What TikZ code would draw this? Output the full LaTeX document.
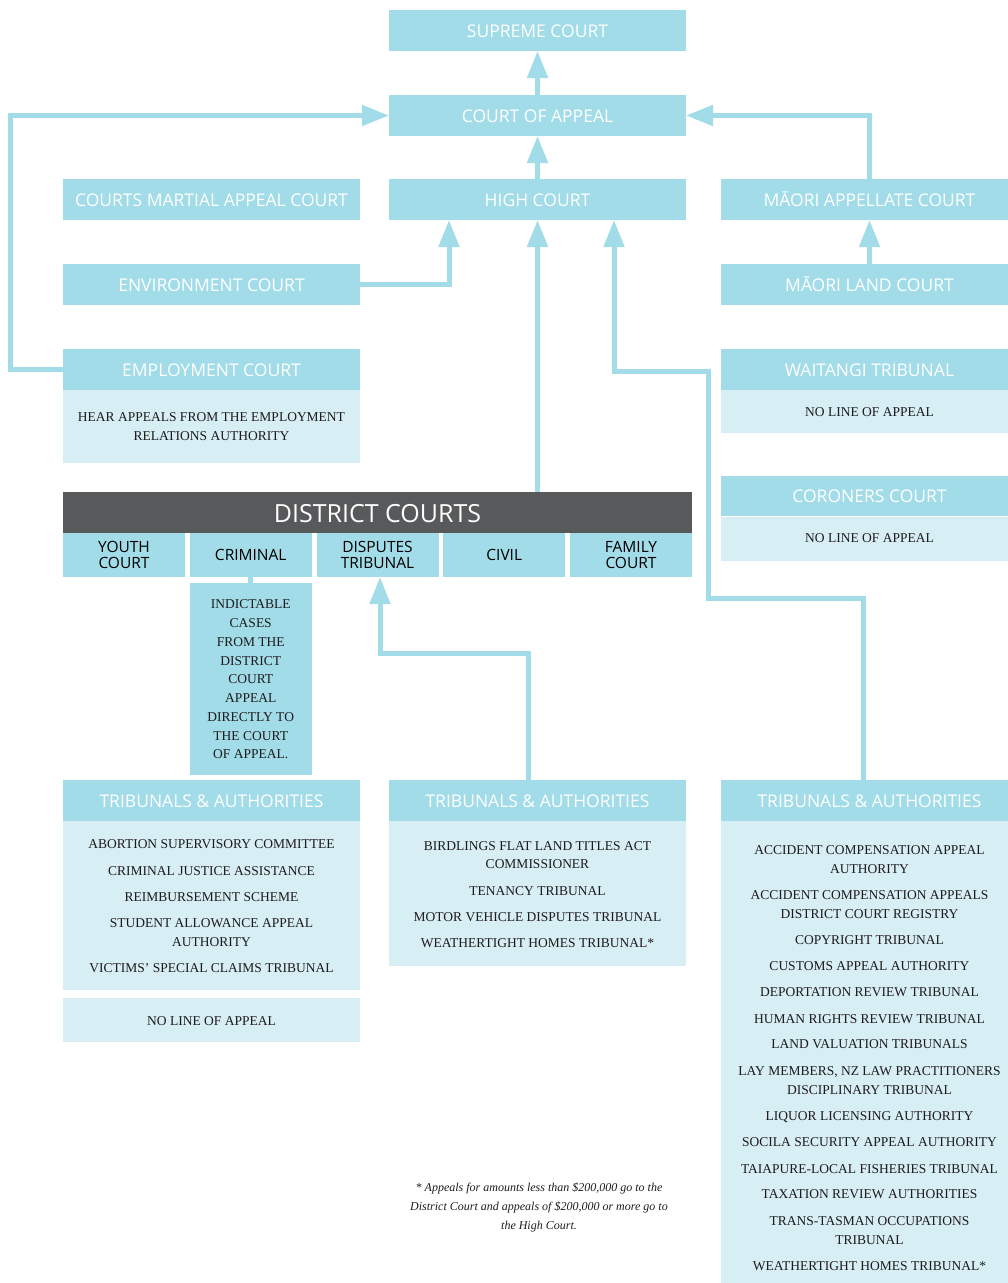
\documentclass[tikz,border=0pt]{standalone}
\usepackage{fontspec}
\setmainfont{Liberation Serif}
\newfontfamily\osans{Open Sans}
\usetikzlibrary{arrows.meta,calc}
\definecolor{cblue}{HTML}{A1DCE8}
\definecolor{clight}{HTML}{D7EEF4}
\definecolor{cdark}{HTML}{58595B}
\definecolor{ctext}{HTML}{1E1B1C}
\newcommand\hdrf{\osans\fontsize{17.5}{21}\selectfont}
\newcommand\dcf{\osans\fontsize{25}{30}\selectfont}
\newcommand\subf{\osans\fontsize{15.5}{16}\selectfont}
\newcommand\bodyf{\fontsize{13.5}{18.75}\selectfont}
\newcommand\notef{\itshape\fontsize{12}{19}\selectfont}
\tikzset{
  hdr/.style={fill=cblue, text=white, font=\hdrf, minimum width=297pt, minimum height=41pt,
    inner sep=0pt, outer sep=0pt, text height=14.5pt, text depth=0pt},
  bodybox/.style={fill=clight, minimum width=297pt, inner sep=0pt, outer sep=0pt},
  subbox/.style={fill=cblue, text=black, font=\subf, minimum width=122pt, minimum height=44pt,
    inner sep=0pt, outer sep=0pt, align=center},
  txt/.style={font=\bodyf, text=ctext, inner sep=0pt, anchor=base},
  arr/.style={draw=cblue, line width=5pt, -{Triangle[length=27pt,width=20pt]}},
  plainline/.style={draw=cblue, line width=5pt},
}
\begin{document}
\begin{tikzpicture}[x=1pt,y=-1pt]
\useasboundingbox (0,0) rectangle (1008,1283);
\clip (0,0) rectangle (1008,1283);

% upper courts
\node[hdr] (sup) at (537.5,30.5) {SUPREME COURT};
\node[hdr] (coa) at (537.5,115.5) {COURT OF APPEAL};
\node[hdr] (hc) at (537.5,199.5) {HIGH COURT};
\node[hdr] (cmac) at (211.5,199.5) {COURTS MARTIAL APPEAL COURT};
\node[hdr] (env) at (211.5,284.5) {ENVIRONMENT COURT};
\node[hdr] (emp) at (211.5,369.5) {EMPLOYMENT COURT};
\node[bodybox, minimum height=73pt] (empb) at (211.5,426.5) {};
\node[txt] (empt1) at (211.5,421.5) {HEAR APPEALS FROM THE EMPLOYMENT};
\node[txt] (empt2) at (211.5,440.5) {RELATIONS AUTHORITY};

\node[hdr] (mac) at (869.5,199.5) {MĀORI APPELLATE COURT};
\node[hdr] (mlc) at (869.5,284.5) {MĀORI LAND COURT};
\node[hdr] (wai) at (869.5,369.5) {WAITANGI TRIBUNAL};
\node[bodybox, minimum height=43pt] (waib) at (869.5,411.5) {};
\node[txt] (wait) at (869.5,416.5) {NO LINE OF APPEAL};
\node[hdr, minimum height=40pt] (cor) at (869.5,495.5) {CORONERS COURT};
\node[bodybox, minimum height=44pt] (corb) at (869.5,539) {};
\node[txt] (cort) at (869.5,542.5) {NO LINE OF APPEAL};

% district courts
\node[fill=cdark, text=white, font=\dcf, minimum width=629pt, minimum height=41pt,
  inner sep=0pt, outer sep=0pt, text height=20pt, text depth=0pt] (dc) at (377.5,512.5) {DISTRICT COURTS};
\node[subbox] (youth) at (124,555) {YOUTH\\COURT};
\node[subbox] (crim) at (250.75,555) {CRIMINAL};
\node[subbox] (disp) at (377.5,555) {DISPUTES\\TRIBUNAL};
\node[subbox] (civil) at (504.25,555) {CIVIL};
\node[subbox] (fam) at (631,555) {FAMILY\\COURT};
\node[fill=cblue, minimum width=122pt, minimum height=192pt, inner sep=0pt, outer sep=0pt] (crimn) at (250.75,679) {};
\node[font=\bodyf, text=ctext, align=center, inner sep=0pt] (crimt) at (250.75,679.5)
  {INDICTABLE\\CASES\\FROM THE\\DISTRICT\\COURT\\APPEAL\\DIRECTLY TO\\THE COURT\\OF APPEAL.};

% tribunals left
\node[hdr] (trL) at (211.5,800.5) {TRIBUNALS \& AUTHORITIES};
\node[bodybox, minimum height=168.5pt] (trLb) at (211.5,905.25) {};
\foreach \y/\t [count=\i] in {843/{ABORTION SUPERVISORY COMMITTEE}, 870.5/{CRIMINAL JUSTICE ASSISTANCE},
  896.5/{REIMBURSEMENT SCHEME}, 922.5/{STUDENT ALLOWANCE APPEAL}, 941.5/{AUTHORITY},
  967.5/{VICTIMS’ SPECIAL CLAIMS TRIBUNAL}}
  \node[txt] (l\i) at (211.5,\y+5) {\t};
\node[bodybox, minimum height=44pt] (nla) at (211.5,1020) {};
\node[txt] (nlat) at (211.5,1025) {NO LINE OF APPEAL};

% tribunals middle
\node[hdr] (trM) at (537.5,800.5) {TRIBUNALS \& AUTHORITIES};
\node[bodybox, minimum height=144.5pt] (trMb) at (537.5,893.25) {};
\foreach \y/\t [count=\i] in {845/{BIRDLINGS FLAT LAND TITLES ACT}, 863/{COMMISSIONER},
  890/{TENANCY TRIBUNAL}, 916.5/{MOTOR VEHICLE DISPUTES TRIBUNAL}, 942.5/{WEATHERTIGHT HOMES TRIBUNAL*}}
  \node[txt] (m\i) at (537.5,\y+5) {\t};

% tribunals right
\node[hdr] (trR) at (869.5,800.5) {TRIBUNALS \& AUTHORITIES};
\node[bodybox, minimum height=480pt] (trRb) at (869.5,1061) {};
\foreach \y/\t [count=\i] in {849.5/{ACCIDENT COMPENSATION APPEAL}, 868/{AUTHORITY},
  894.5/{ACCIDENT COMPENSATION APPEALS}, 913/{DISTRICT COURT REGISTRY},
  939/{COPYRIGHT TRIBUNAL}, 965/{CUSTOMS APPEAL AUTHORITY}, 991/{DEPORTATION REVIEW TRIBUNAL},
  1018/{HUMAN RIGHTS REVIEW TRIBUNAL}, 1043.5/{LAND VALUATION TRIBUNALS},
  1070/{LAY MEMBERS, NZ LAW PRACTITIONERS}, 1089/{DISCIPLINARY TRIBUNAL},
  1115.5/{LIQUOR LICENSING AUTHORITY}, 1141.5/{SOCILA SECURITY APPEAL AUTHORITY},
  1168/{TAIAPURE-LOCAL FISHERIES TRIBUNAL}, 1193.5/{TAXATION REVIEW AUTHORITIES},
  1220/{TRANS-TASMAN OCCUPATIONS}, 1239/{TRIBUNAL}, 1265/{WEATHERTIGHT HOMES TRIBUNAL*}}
  \node[txt] (r\i) at (869.5,\y+5) {\t};

% footnote
\node[font=\notef, text=ctext, inner sep=0pt, anchor=base] (fn1) at (539,1191.5) {* Appeals for amounts less than \$200,000 go to the};
\node[font=\notef, text=ctext, inner sep=0pt, anchor=base] (fn2) at (539,1210.5) {District Court and appeals of \$200,000 or more go to};
\node[font=\notef, text=ctext, inner sep=0pt, anchor=base] (fn3) at (539,1229.5) {the High Court.};

% connectors
\draw[arr] (coa.north) -- (sup.south);
\draw[arr] (hc.north) -- (coa.south);
\draw[arr] (emp.west) -- ++(-52.5,0) |- (coa.west);
\draw[arr] (env.east) -| ([xshift=60pt]hc.south west);
\draw[arr] (dc.north -| hc.south) -- (hc.south);
\draw[arr] (mac.north) |- (coa.east);
\draw[arr] (mlc.north) -- (mac.south);
\coordinate (k1) at (708,598);
\coordinate (k2) at (614,371.5);
\draw[arr] ([xshift=-6.5pt]trR.north) |- (k1) |- (k2) -- (k2 |- hc.south);
\coordinate (k3) at (380,653);
\draw[arr] ([xshift=-9.5pt]trM.north) |- (k3) -- (k3 |- disp.south);
\draw[plainline] (crim.south) -- (crimn.north);
\end{tikzpicture}
\end{document}
